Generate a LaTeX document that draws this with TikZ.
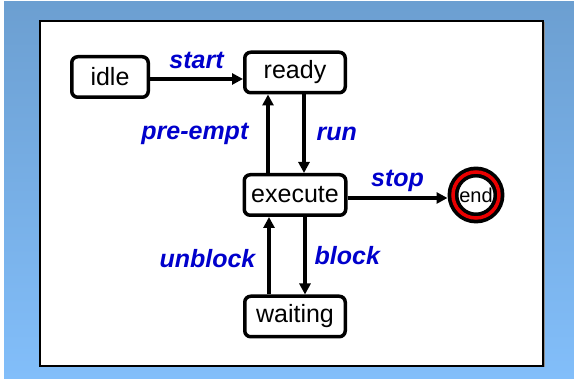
\documentclass[tikz,border=0pt]{standalone}
\usepackage{fontspec}
\setmainfont{Liberation Sans}
\usetikzlibrary{arrows.meta,positioning}
\definecolor{lblblue}{RGB}{0,0,204}
\definecolor{bgtop}{RGB}{108,159,209}
\definecolor{bgbottom}{RGB}{130,190,250}
\definecolor{ringred}{RGB}{235,0,0}

\begin{document}
\begin{tikzpicture}[x=1pt, y=1pt,
    state/.style={draw, line width=3.5pt, rounded corners=6pt, minimum height=40.5pt,
      inner sep=0pt, font=\fontsize{25}{30}\selectfont},
    final/.style={circle, draw, line width=3.7pt, double=ringred, double distance=3.5pt,
      minimum size=46pt, inner sep=0pt, outer sep=5.5pt, font=\fontsize{20}{24}\selectfont},
    trans/.style={line width=3.3pt, -{Triangle[length=11pt, width=11pt]}},
    lbl/.style={text=lblblue, inner sep=0pt, font=\fontsize{25}{30}\selectfont\bfseries\itshape}]
  \useasboundingbox (0,0) rectangle (574,379);
  \fill[white] (0,0) rectangle (574,379);
  \shade[top color=bgtop, bottom color=bgbottom] (4,0) rectangle (574,377);
  \fill[black!45] (41.5,11.5) rectangle (544.5,356.5);
  \draw[fill=white, line width=1.5pt] (40,13) rectangle (543,358);

  \node[state, minimum width=76.5pt] (idle) at (110,302) {idle};
  \node[state, minimum width=100.5pt] (ready) at (295,306.5) {ready};
  \node[state, minimum width=101.5pt] (execute) at (295,184) {execute};
  \node[state, minimum width=100.5pt] (waiting) at (295,62.5) {waiting};
  \node[final] (endst) at (476,184) {end};

  \draw[trans] ([yshift=-2pt]idle.east) -- ([yshift=-2pt]idle.east -| ready.west)
    node[lbl, midway, above=9pt] {start};
  \draw[trans] ([xshift=-27pt]execute.north) -- ([xshift=-27pt]ready.south)
    node[lbl, midway, left=18pt] {pre-empt};
  \draw[trans] ([xshift=9pt]ready.south) -- ([xshift=9pt]execute.north)
    node[lbl, midway, right=11pt] {run};
  \draw[trans] ([yshift=-3pt]execute.east) -- ([yshift=-3pt]endst.west)
    node[lbl, midway, above=5pt] {stop};
  \draw[trans] ([xshift=-26pt]waiting.north) -- ([xshift=-26pt]execute.south)
    node[lbl, midway, left=12pt, yshift=-3pt] {unblock};
  \draw[trans] ([xshift=10pt]execute.south) -- ([xshift=10pt]waiting.north)
    node[lbl, midway, right=8pt] {block};
\end{tikzpicture}
\end{document}
